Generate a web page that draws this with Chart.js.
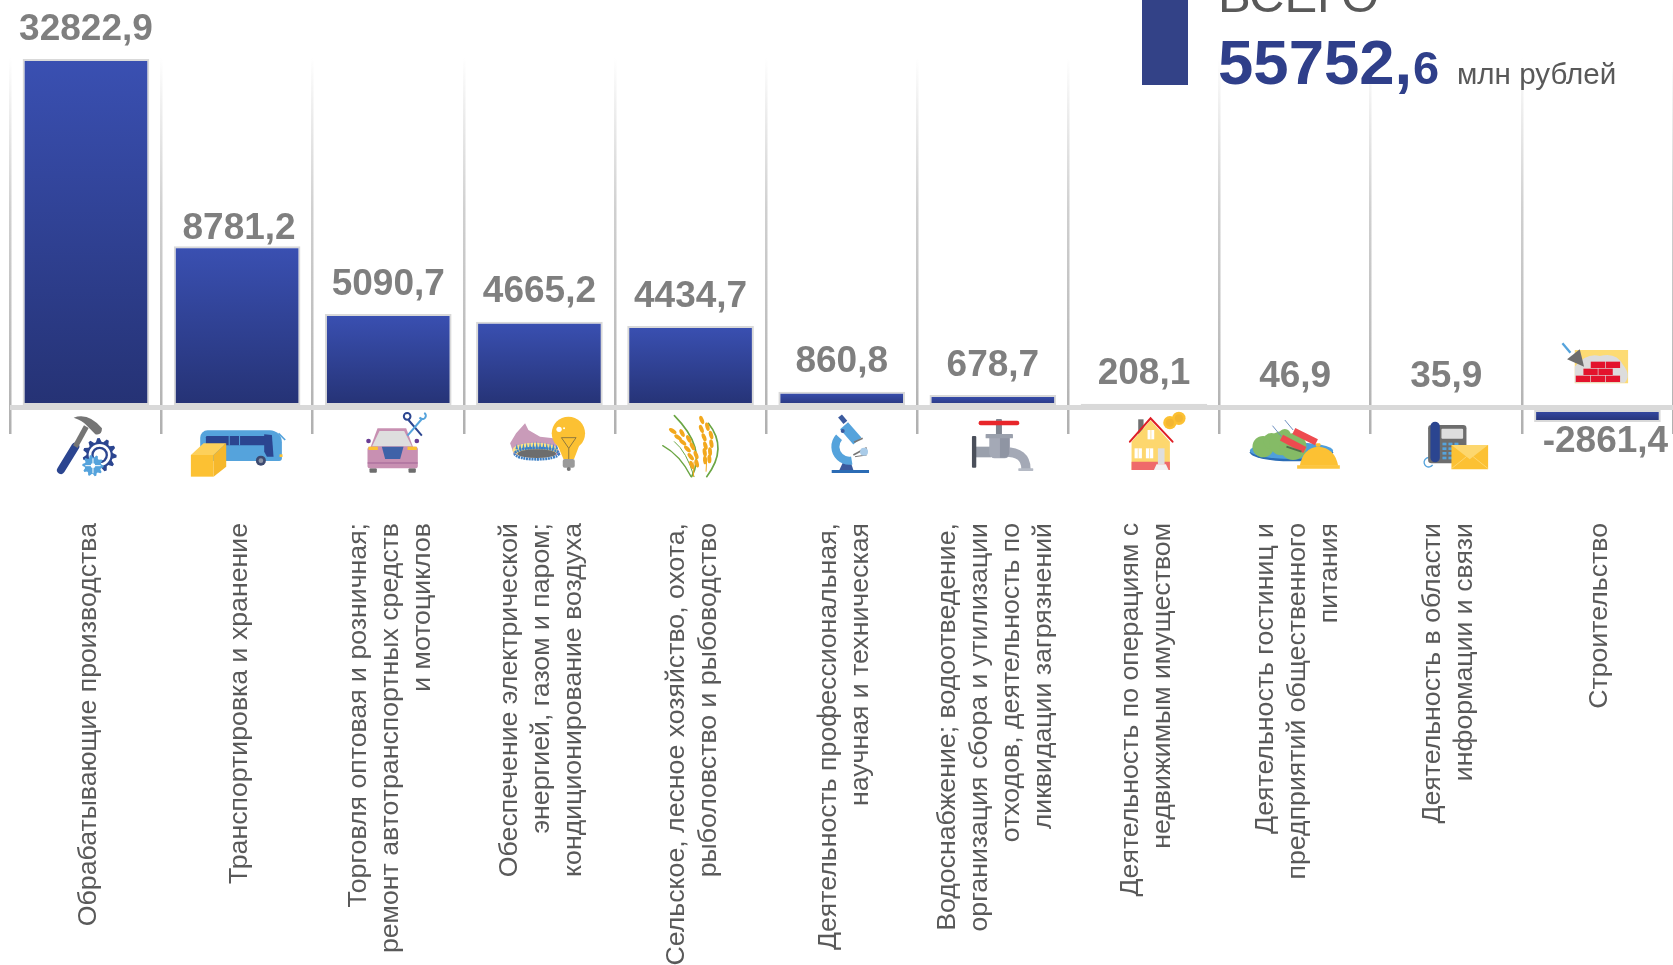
<!DOCTYPE html>
<html lang="ru"><head><meta charset="utf-8">
<style>html,body{margin:0;padding:0;background:#fff;overflow:hidden}canvas{display:block}</style>
<script src="https://cdn.jsdelivr.net/npm/chart.js@4"></script>
</head><body><canvas id="c" width="1673" height="965"></canvas>
<script>
const categories = [
  ["Обрабатывающие производства"],
  ["Транспортировка и хранение"],
  ["Торговля оптовая и розничная;","ремонт автотранспортных средств","и мотоциклов"],
  ["Обеспечение электрической","энергией, газом и паром;","кондиционирование воздуха"],
  ["Сельское, лесное хозяйство, охота,","рыболовство и рыбоводство"],
  ["Деятельность профессиональная,","научная и техническая"],
  ["Водоснабжение; водоотведение,","организация сбора и утилизации","отходов, деятельность по","ликвидации загрязнений"],
  ["Деятельность по операциям с","недвижимым имуществом"],
  ["Деятельность гостиниц и","предприятий общественного","питания"],
  ["Деятельность в области","информации и связи"],
  ["Строительство"]
];
// Values as printed on the picture.
const values = [32822.9, 8781.2, 5090.7, 4665.2, 4434.7, 860.8, 678.7, 208.1, 46.9, 35.9, -2861.4];
// Bar lengths as drawn on the picture. The reference truncates its first and last
// bars, so those two are not to scale with their printed values; the others are.
const barLengths = [18971, 8781.2, 5090.7, 4665.2, 4434.7, 860.8, 678.7, 208.1, 46.9, 35.9, -790];
const totalLabel = "ВСЕГО";
const totalWhole = "55752,";
const totalFraction = "6";
const totalUnit = "млн рублей";

const FONT = '"Liberation Sans", Arial, sans-serif';
const TICK_SIZE = 26.7, TICK_LINE = 1.2;
const labelGap = [19, 6.7, 19.4, 19.4, 19.4, 19.4, 19.4, 19.4, 19.4, 19.4, 3];
const labelShift = [0, 2, 0, 0, 0, 0, 0, 0, 0, 0, 8];

function barFill(ctx) {
  const c = ctx.chart, y = c.scales.y;
  const v = barLengths[ctx.dataIndex];
  if (!y || v === undefined) return '#30418f';
  const a = y.getPixelForValue(Math.max(v,0)), b = y.getPixelForValue(Math.min(v,0));
  if (!isFinite(a) || !isFinite(b)) return '#30418f';
  const g = c.ctx.createLinearGradient(0, a, 0, b);
  g.addColorStop(0, '#3a50b2'); g.addColorStop(1, '#253274');
  return g;
}
function gridFill(ctx) {
  const c = ctx.chart, a = c.chartArea;
  if (!a || !isFinite(a.top) || !isFinite(a.bottom)) return '#c0c0c0';
  const g = c.ctx.createLinearGradient(0, a.top, 0, a.bottom);
  g.addColorStop(0, '#ffffff'); g.addColorStop(0.12, '#f0f0f0');
  g.addColorStop(0.4, '#d0d0d0'); g.addColorStop(1, '#b0b0b0');
  return g;
}

const BLUE='#55a3dc', NAVY='#2b4590', YEL='#fcc133', LYEL='#fdd76e', GR='#757575';
function poly(g, pts, fill){ g.fillStyle=fill; g.beginPath(); pts.forEach((p,i)=>i?g.lineTo(p[0],p[1]):g.moveTo(p[0],p[1])); g.closePath(); g.fill(); }
function rect(g,x,y,w,h,fill,r){ g.fillStyle=fill; g.beginPath(); g.roundRect(x,y,w,h,r||0); g.fill(); }
function line(g,x1,y1,x2,y2,col,w,cap){ g.strokeStyle=col; g.lineWidth=w; g.lineCap=cap||'butt'; g.beginPath(); g.moveTo(x1,y1); g.lineTo(x2,y2); g.stroke(); }
function circle(g,x,y,r,fill){ g.fillStyle=fill; g.beginPath(); g.arc(x,y,r,0,7); g.fill(); }
function ell(g,x,y,rx,ry,fill,rot){ g.fillStyle=fill; g.beginPath(); g.ellipse(x,y,rx,ry,rot||0,0,7); g.fill(); }
function gear(g,x,y,r,n,col,hole){
  g.fillStyle=col; g.beginPath();
  for(let i=0;i<n*4;i++){ const a=i/(n*4)*Math.PI*2; const R=(i%4<2)?r:r*0.78; g.lineTo(x+R*Math.cos(a),y+R*Math.sin(a)); }
  g.closePath(); g.fill(); circle(g,x,y,hole,'#fff');
}
const icons = [
  [137,0,g=>{ // hammer and gears
    line(g,62,195,105,125,NAVY,24,'round'); line(g,105,125,138,65,GR,16);
    g.fillStyle=GR; g.beginPath(); g.moveTo(100,38); g.quadraticCurveTo(145,22,185,70); g.quadraticCurveTo(185,92,165,88); g.lineTo(140,62); g.quadraticCurveTo(125,45,100,38); g.fill();
    gear(g,178,150,51,11,NAVY,33); circle(g,178,150,25,NAVY); circle(g,178,150,18,'#fff');
    gear(g,158,182,32,10,BLUE,7); line(g,135,182,181,182,'#fff',3); line(g,158,160,158,205,'#fff',3);
  }],
  [590.7,0,g=>{ // bus and box
    rect(g,480,76,245,92,BLUE,[22,36,8,8]); line(g,715,85,735,105,BLUE,5); rect(g,497,93,198,28,NAVY,4);
    line(g,567,93,567,121,BLUE,3); line(g,598,93,598,121,BLUE,3);
    poly(g,[[672,88],[695,90],[700,155],[680,155],[672,140]],NAVY); rect(g,718,148,9,8,YEL);
    circle(g,662,167,15,'#3d4a70'); circle(g,662,167,7,'#8a94a8');
    poly(g,[[452,150],[490,115],[558,115],[520,150]],'#fdd05a');
    poly(g,[[452,150],[520,150],[520,215],[452,215]],YEL);
    poly(g,[[520,150],[558,115],[558,185],[520,215]],'#f6b82c');
  }],
  [1044.3,0,g=>{ // car and scissors
    rect(g,988,190,22,13,'#6d6d6d',3); rect(g,1105,190,22,13,'#6d6d6d',3);
    poly(g,[[1012,70],[1098,70],[1120,130],[990,130]],'#c890b2');
    rect(g,982,125,151,65,'#c890b2',8);
    poly(g,[[1018,78],[1092,78],[1115,124],[996,124]],'#dedede');
    circle(g,985,108,7,'#6a3d94'); circle(g,1130,108,7,'#6a3d94');
    rect(g,985,125,28,10,YEL); rect(g,1102,125,28,10,YEL);
    poly(g,[[1025,125],[1090,125],[1080,162],[1035,162]],'#3f62a8');
    line(g,982,174,1133,174,'#8e4f8a',2);
    line(g,1105,45,1145,92,NAVY,6); g.strokeStyle=NAVY; g.lineWidth=6; g.beginPath(); g.arc(1101,34,10,0,7); g.stroke();
    line(g,1145,42,1102,92,BLUE,6); g.strokeStyle=BLUE; g.beginPath(); g.arc(1147,32,10,-1,2.6); g.stroke();
  }],
  [148,0,g=>{ // gas burner and bulb
    poly(g,[[60,115],[78,85],[105,55],[115,75],[150,95],[190,100],[212,150],[72,150]],'#c99bb9');
    ell(g,135,135,68,22,'#fde08a');
    g.fillStyle='#3d8ad0';
    for(let i=0;i<13;i++){ const x=80+i*10; g.beginPath(); g.moveTo(x-4,133); g.lineTo(x,108+Math.abs(i-6)*1.5); g.lineTo(x+4,133); g.fill(); }
    g.strokeStyle='#3d7fc4'; g.lineWidth=8; g.setLineDash([6,2]); g.beginPath(); g.ellipse(140,146,66,17,0,0,7); g.stroke(); g.setLineDash([]);
    ell(g,140,146,58,13,'#6d6d6d');
    circle(g,235,85,50,YEL); poly(g,[[200,115],[270,115],[252,162],[220,162]],YEL);
    rect(g,218,162,36,26,'#9a9a9a',6); circle(g,236,192,6,'#777');
    circle(g,207,73,8,'#fff'); circle(g,222,70,3,'#fff');
    g.strokeStyle='#7a6a40'; g.lineWidth=2.5; g.beginPath(); g.moveTo(214,98); g.lineTo(258,98); g.lineTo(236,130); g.closePath(); g.moveTo(236,130); g.lineTo(236,162); g.stroke();
  }],
  [601.5,0,g=>{ // wheat
    g.strokeStyle='#6ba644'; g.lineCap='round';
    [[5,605,215,650,130,553,32],[5,650,215,715,130,655,55],[4,603,215,570,150,518,122],[3,612,215,590,140,553,110]].forEach(a=>{ g.lineWidth=a[0]; g.beginPath(); g.moveTo(a[1],a[2]); g.quadraticCurveTo(a[3],a[4],a[5],a[6]); g.stroke(); });
    line(g,610,215,612,170,'#f2a81d',3); line(g,648,200,650,160,'#f2a81d',3);
    [[548,78,.6],[576,84,1.1],[564,97,.6],[596,102,1.1],[578,112,.7],[607,124,1.1],[592,132,.8],[618,150,1.2],[602,155,.9],[620,175,1.3],[605,180,1.2],
     [635,45,1.2],[652,65,1.3],[634,72,1.2],[663,90,1.3],[642,97,1.2],[664,116,1.4],[646,122,1.3],[660,140,1.5],[644,142,1.4],[658,162,1.5],[645,165,1.5]]
      .forEach(p=>ell(g,p[0],p[1],13,6,'#f2a81d',p[2]));
  }],
  [1055,0,g=>{ // microscope
    rect(g,1025,195,112,9,'#2b6cb5');
    poly(g,[[1048,195],[1062,165],[1080,165],[1090,195]],'#3b5a9e');
    g.strokeStyle=BLUE; g.lineWidth=24; g.lineCap='butt'; g.beginPath(); g.arc(1078,125,42,-2.4,1.4,true); g.stroke();
    line(g,1062,62,1102,108,BLUE,32); line(g,1050,33,1066,52,'#3b5a9e',15); circle(g,1058,78,6,'#3b5a9e');
    line(g,1092,112,1118,100,'#777',5); line(g,1090,150,1130,128,'#777',5); line(g,1095,155,1130,150,'#777',3);
    circle(g,1122,140,12,'#a9cbe8');
  }],
  [158.7,0,g=>{ // tap
    rect(g,168,42,18,50,'#7f8590',3); rect(g,116,47,122,14,'#e8262a',6);
    g.strokeStyle='#a4a9b6'; g.lineWidth=28; g.lineCap='butt'; g.beginPath(); g.moveTo(195,141); g.quadraticCurveTo(258,141,258,192); g.stroke();
    rect(g,235,190,45,8,'#b5bac5',2); rect(g,108,125,45,32,'#9aa0ac');
    rect(g,148,98,62,62,'#a4a9b6',[0,0,16,16]); rect(g,180,98,28,60,'#8f95a3',[0,0,14,0]);
    rect(g,137,87,82,13,'#9aa0ac',2); rect(g,96,93,13,95,'#4a4f5a',3);
  }],
  [612.3,0,g=>{ // house and coins
    rect(g,595,43,16,45,'#707070');
    poly(g,[[575,110],[632,46],[690,110],[690,195],[575,195]],LYEL);
    rect(g,575,170,115,25,'#ef6a6a');
    g.strokeStyle='#df1f26'; g.lineWidth=6; g.lineCap='round'; g.beginPath(); g.moveTo(570,110); g.lineTo(632,40); g.lineTo(698,110); g.stroke();
    rect(g,623,75,20,28,'#fff'); rect(g,584,130,22,30,'#fff'); rect(g,618,130,22,30,'#fff');
    line(g,633,75,633,103,LYEL,2); line(g,595,130,595,160,LYEL,2); line(g,629,130,629,160,LYEL,2);
    rect(g,654,130,20,48,'#dedede'); poly(g,[[650,178],[678,178],[686,195],[642,195]],'#f2f2f2');
    circle(g,690,53,20,YEL); circle(g,717,40,20,YEL); circle(g,690,53,12,'#f3b632'); circle(g,717,40,12,'#f3b632');
  }],
  [1066,0,g=>{ // plate and bell
    ell(g,1055,142,125,27,'#2b6cb5'); ell(g,1055,137,125,25,'#4f9fdc');
    [[970,125,32],[995,108,24],[1025,115,36],[1060,125,40],[1035,90,18]].forEach(p=>circle(g,p[0],p[1],p[2],'#85bb66'));
    g.strokeStyle='#6c8fc0'; g.lineWidth=3; g.beginPath(); g.moveTo(998,62); g.lineTo(1025,95); g.moveTo(1035,45); g.lineTo(1060,75); g.stroke();
    line(g,1025,98,1095,135,'#ee4b4f',20); line(g,1062,78,1130,112,'#ee4b4f',20);
    line(g,1040,125,1085,140,'#51704a',6);
    g.fillStyle=YEL; g.beginPath(); g.moveTo(1080,182); g.quadraticCurveTo(1090,128,1135,125); g.quadraticCurveTo(1185,128,1195,182); g.fill();
    rect(g,1072,181,128,10,'#fdc53e'); rect(g,1128,115,14,10,YEL,3);
  }],
  [139.5,225,g=>{ // phone and envelope
    g.strokeStyle=BLUE; g.lineWidth=4; g.beginPath(); g.arc(87,397,14,0.6,5.2); g.stroke();
    rect(g,85,285,115,115,'#6d6d6d',10); rect(g,125,296,65,30,'#dedede',3);
    for(let r=0;r<4;r++) for(let k=0;k<3;k++) rect(g,128+k*18,338+r*14,12,8,BLUE);
    rect(g,92,275,28,122,NAVY,14);
    rect(g,155,345,110,73,YEL); poly(g,[[155,345],[265,345],[210,388]],LYEL);
    line(g,155,416,200,380,'#fde08a',2); line(g,265,416,220,380,'#fde08a',2);
  }],
  [593,225,g=>{ // bricks and trowel
    rect(g,525,60,160,100,'#fddb73');
    g.fillStyle='#dcdcdc'; g.beginPath(); g.moveTo(525,158); g.lineTo(525,110); g.quadraticCurveTo(560,68,600,78); g.quadraticCurveTo(650,65,670,105); g.quadraticCurveTo(695,135,675,158); g.closePath(); g.fill();
    const red='#e3132c';
    [[573,95],[618,95],[551,116],[596,116],[528,137],[573,137],[618,137]].forEach(p=>rect(g,p[0],p[1],43,19,red));
    line(g,488,40,512,68,BLUE,7); poly(g,[[502,88],[540,58],[553,110]],'#6d6d6d');
  }]
];

const decorations = {
  id:'decorations',
  beforeDraw(chart){
    // Chart.js starts rotated multi-line labels at the tick; centre each block on it instead.
    const x = chart.scales.x, lh = TICK_SIZE * TICK_LINE;
    if (x._centredFor && x._centredFor === x._labelItems) return;
    const items = x.getLabelItems(chart.chartArea);
    items.forEach(it => {
      const n = Array.isArray(it.label) ? it.label.length : 1;
      it.options.translation[0] += 2.5 - (n - 1) * lh / 2;
    });
    x._centredFor = items;
  },
  afterDatasetsDraw(chart){
    const g = chart.ctx, meta = chart.getDatasetMeta(0), x = chart.scales.x, y = chart.scales.y;
    // value labels
    g.save(); g.font = 'bold 37px '+FONT; g.fillStyle='#7f7f7f'; g.textAlign='center'; g.textBaseline='alphabetic';
    values.forEach((v,i)=>{
      const el = meta.data[i];
      const t = v.toFixed(1).replace('.',',');
      const by = v<0 ? el.y + labelGap[i] + 26.7 : el.y - labelGap[i];
      g.fillText(t, el.x + labelShift[i], by);
    });
    g.restore();
    // icons, hung from each category position and the zero line
    const y0 = y.getPixelForValue(0) - 2.5;
    icons.forEach((ic,i)=>{
      g.save(); g.translate(x.getPixelForValue(i), y0); g.scale(1/3,1/3); g.translate(-ic[0],-ic[1]); ic[2](g); g.restore();
    });
    // total block
    g.save(); g.textBaseline='alphabetic'; g.textAlign='left';
    g.fillStyle='#334287'; g.fillRect(1142,0,46,85);
    g.fillStyle='#595959'; g.font='49px '+FONT; g.fillText(totalLabel,1218,12);
    g.fillStyle='#2f3f8a'; g.font='bold 63.5px '+FONT; g.fillText(totalWhole,1218,84);
    g.font='bold 47px '+FONT; g.fillText(totalFraction,1413,84);
    g.fillStyle='#595959'; g.font='29.6px '+FONT; g.fillText(totalUnit,1457,84);
    g.restore();
  }
};

new Chart(document.getElementById('c'), {
  type:'bar',
  data:{ labels:categories, datasets:[{ data:barLengths, backgroundColor:barFill, borderColor:'#d9d9d9', borderWidth:2, borderSkipped:false, barPercentage:0.838, categoryPercentage:1 }]},
  plugins:[decorations],
  options:{
    responsive:false, animation:false,
    layout:{ padding:{ left:10.4, right:0, top:58, bottom:0 } },
    plugins:{ legend:{display:false}, tooltip:{enabled:false}, title:{display:false} },
    scales:{
      x:{
        afterFit(s){ s.height = 531; s.paddingLeft = 0; s.paddingRight = 0; },
        border:{display:false},
        grid:{ color:gridFill, lineWidth:2.5, drawTicks:false, offset:true },
        ticks:{ autoSkip:false, minRotation:90, maxRotation:90, padding:89, color:'#595959', font:{family:FONT,size:TICK_SIZE,lineHeight:TICK_LINE} }
      },
      y:{
        min:-1443, max:19026,
        afterFit(s){ s.width = 0; },
        afterBuildTicks(s){ s.ticks=[{value:0}]; },
        border:{display:false},
        ticks:{display:false},
        grid:{ color:'#d9d9d9', lineWidth:5, drawTicks:false, z:1 }
      }
    }
  }
});
</script></body></html>
